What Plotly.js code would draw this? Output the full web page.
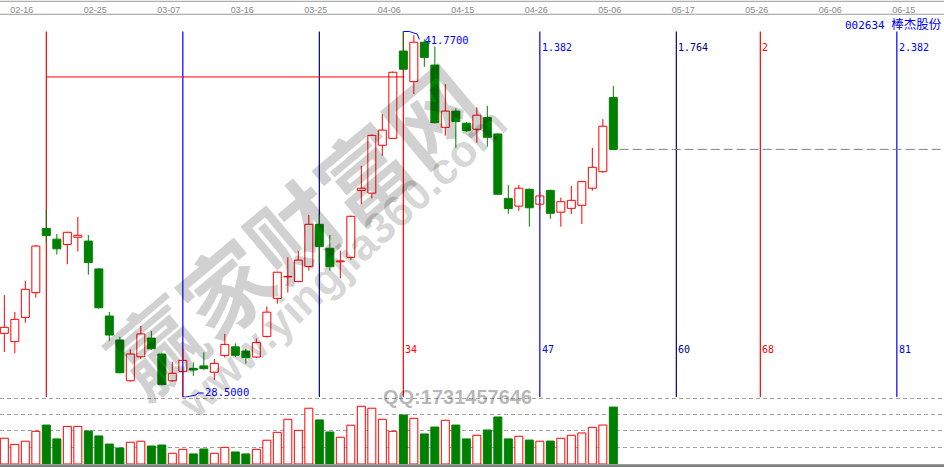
<!DOCTYPE html>
<html><head><meta charset="utf-8">
<script src="https://cdn.plot.ly/plotly-3.0.1.min.js"></script>
<style>html,body{margin:0;padding:0;background:#fff}#chart{width:944px;height:467px}</style>
</head><body><div id="chart"></div>
<script>
// ---------------- DATA ----------------
const stockName = '002634 ';
const stockNameCN = '棒杰股份';
const dateLabels = ['02-16','02-25','03-07','03-16','03-25','04-06','04-15','04-26','05-06','05-17','05-26','06-06','06-15'];
const dateLabelIdx = [1,8,15,22,29,36,43,50,57,64,71,78,85];

const open  = [30.81,30.51,31.39,32.29,34.62,34.23,34.04,34.30,34.16,33.15,31.44,30.57,29.09,29.96,30.64,30.06,29.09,29.43,29.54,29.63,29.40,30.01,30.32,30.17,29.95,30.70,32.08,32.86,32.69,33.24,34.77,33.90,33.41,33.57,36.00,35.90,37.64,37.89,41.06,39.95,41.38,40.55,38.29,38.88,38.44,38.22,38.65,38.05,35.71,35.43,36.04,35.50,36.00,35.21,35.35,35.46,36.08,36.68,39.37];
const high  = [32.20,31.59,32.71,34.02,35.31,34.42,34.50,35.04,34.38,33.18,31.59,30.69,30.23,31.08,30.90,30.11,29.77,30.25,29.76,30.12,29.88,30.79,30.45,30.25,30.63,31.79,33.05,33.57,33.80,35.11,35.11,34.38,33.81,35.09,36.89,38.03,38.77,40.32,41.77,41.64,41.49,41.22,39.86,38.98,38.48,39.02,39.07,38.07,36.20,36.20,36.07,35.95,36.03,35.74,36.16,36.34,37.55,38.59,39.79];
const low   = [30.13,30.09,31.20,32.11,34.10,33.67,33.32,33.78,32.94,31.70,30.54,29.36,29.06,29.88,30.21,28.92,29.06,28.50,29.27,29.48,29.12,29.93,29.96,29.71,29.92,30.66,31.89,32.29,32.66,33.09,33.35,33.09,32.81,33.48,35.50,35.71,37.26,37.87,40.37,39.50,40.49,38.43,37.99,37.55,38.13,37.73,37.59,35.83,35.15,35.26,34.68,35.31,34.97,34.68,35.14,34.78,35.99,36.64,37.47];
const close = [31.03,31.32,32.41,33.98,34.36,33.88,34.48,34.37,33.38,31.74,30.75,29.38,30.06,30.79,30.25,28.95,29.36,29.83,29.48,29.53,29.72,30.41,30.02,29.93,30.48,31.58,33.03,32.88,33.47,34.77,33.96,33.23,33.44,35.06,36.08,38.00,38.19,40.29,40.40,41.38,40.83,38.46,38.88,38.50,38.17,38.73,37.93,35.86,35.34,36.08,35.37,35.80,35.17,35.59,35.64,36.32,36.84,38.33,37.49];
const volume = [1.56,1.19,1.38,1.98,2.36,1.52,2.28,2.28,2.00,1.70,1.21,0.97,1.32,1.38,1.09,1.15,0.65,0.89,0.61,0.91,0.65,1.01,0.73,0.61,0.89,1.44,1.92,2.71,2.04,3.38,2.67,1.94,1.62,2.35,3.50,3.38,2.71,1.98,2.97,2.77,1.82,2.24,2.65,2.36,1.52,1.74,2.06,2.85,1.52,1.68,1.45,1.38,1.39,1.56,1.74,1.88,2.22,2.36,3.45];

// Fibonacci time zones
const fibIdx = [4,17,30,38,51,64,72,85];
const fibTopLabels = ['','','','','1.382','1.764','2','2.382'];
const fibBottomLabels = ['','','','34','47','60','68','81'];
const lowIdx = 17, lowPrice = 28.50;
const highIdx = 38, highPrice = 41.77;
const refLineFrom = 4, refLineTo = 38, refLinePrice = 40.12;

// ---------------- STYLE / LAYOUT CALIBRATION ----------------
const W = 944, H = 467;
const RED = '#ff0000', GREEN = '#008000', BLUE = '#0000ff', NAVY = '#000080';
const fibColors = [RED, BLUE, NAVY, RED, BLUE, NAVY, RED, BLUE];
const step = 10.5, x0px = 4.33;                 // candle spacing on screen
const xr = [-x0px/step, (W - x0px)/step];
const idxAt = px => (px - x0px)/step;
const yLowPx = 397, yHighPx = 31.5;
const ppp = (highPrice - lowPrice)/(yLowPx - yHighPx);
const priceAt = py => lowPrice + (yLowPx - py)*ppp;
const paperY = py => 1 - py/H;
const priceTopPx = 15, priceBotPx = 397.5;
const volBasePx = 464, volUnitPx = 16.5, volTopUnits = 4.25;

const n = open.length;
const idx = open.map((_, i) => i);
const up = idx.filter(i => close[i] >= open[i]);
const dn = idx.filter(i => close[i] < open[i]);

function body(list, fill, line) {
  return {
    type: 'bar', xaxis: 'x', yaxis: 'y2',
    x: list, base: list.map(i => Math.min(open[i], close[i])),
    y: list.map(i => Math.max(Math.abs(close[i] - open[i]), 0.02)),
    width: 0.76, marker: {color: fill, line: {color: line, width: 1}},
    hoverinfo: 'skip'
  };
}
function wicks(list, color) {
  const xs = [], ys = [];
  list.forEach(i => {
    const top = Math.max(open[i], close[i]), bot = Math.min(open[i], close[i]);
    if (high[i] > top) { xs.push(i, i, null); ys.push(top, high[i], null); }
    if (low[i] < bot) { xs.push(i, i, null); ys.push(low[i], bot, null); }
  });
  return {type: 'scatter', mode: 'lines', xaxis: 'x', yaxis: 'y2', x: xs, y: ys,
          line: {color: color, width: 1}, hoverinfo: 'skip'};
}

const traces = [];
// fib time lines (base layer, beneath candles)
[RED, BLUE, NAVY].forEach(c => {
  const xs = [], ys = [];
  fibIdx.forEach((f, k) => { if (fibColors[k] === c) { xs.push(f, f, null); ys.push(lowPrice, highPrice, null); } });
  traces.push({type: 'scatter', mode: 'lines', x: xs, y: ys, xaxis: 'x', yaxis: 'y',
               line: {color: c, width: 1.2}, hoverinfo: 'skip'});
});
// horizontal reference line
traces.push({type: 'scatter', mode: 'lines', x: [refLineFrom, refLineTo], y: [refLinePrice, refLinePrice],
             xaxis: 'x', yaxis: 'y', line: {color: RED, width: 1}, hoverinfo: 'skip'});
// last close dashed line
traces.push({type: 'scatter', mode: 'lines', x: [n - 1 + 0.6, xr[1]], y: [close[n-1], close[n-1]],
             xaxis: 'x', yaxis: 'y', line: {color: '#808080', width: 1, dash: '9px,4px'}, hoverinfo: 'skip'});
// high / low connectors
function connector(ix, pr, offs) {
  const bx = x0px + ix*step, by = yLowPx - (pr - lowPrice)/ppp;
  return {type: 'scatter', mode: 'lines', xaxis: 'x', yaxis: 'y',
          x: offs.map(o => idxAt(bx + o[0])), y: offs.map(o => priceAt(by + o[1])),
          line: {color: BLUE, width: 1}, hoverinfo: 'skip'};
}
traces.push(connector(highIdx, highPrice, [[0,0],[6,0],[10,1.3],[14,2.7],[16,8]]));
traces.push(connector(lowIdx, lowPrice, [[0,0],[3,0],[13,-2],[15,-4],[21,-4]]));
// high label (drawn beneath the candles, as in the reference)
traces.push({type: 'scatter', mode: 'text', xaxis: 'x', yaxis: 'y',
             x: [idxAt(424.4)], y: [priceAt(41.5)], text: [highPrice.toFixed(4)],
             textposition: 'middle right',
             textfont: {family: 'DejaVu Sans Mono', size: 10.5, color: BLUE}, hoverinfo: 'skip'});

// candles (overlay layer)
traces.push(body(up, 'rgba(255,255,255,0)', RED));
traces.push(body(dn, GREEN, GREEN));
traces.push(wicks(up, RED));
traces.push(wicks(dn, GREEN));

// volume
traces.push({type: 'bar', xaxis: 'x', yaxis: 'y3', x: up, y: up.map(i => volume[i]), width: 0.76,
             marker: {color: '#ffffff', line: {color: RED, width: 1}}, hoverinfo: 'skip'});
traces.push({type: 'bar', xaxis: 'x', yaxis: 'y3', x: dn, y: dn.map(i => volume[i]), width: 0.76,
             marker: {color: GREEN, line: {color: GREEN, width: 1}}, hoverinfo: 'skip'});

const priceRange = [priceAt(priceBotPx), priceAt(priceTopPx)];

const annotations = [];
fibIdx.forEach((f, k) => {
  if (fibTopLabels[k]) annotations.push({x: f, xref: 'x', y: paperY(47.7), yref: 'paper', text: fibTopLabels[k],
    showarrow: false, xanchor: 'left', yanchor: 'middle', xshift: 0,
    font: {family: 'DejaVu Sans Mono', size: 10, color: fibColors[k]}});
  if (fibBottomLabels[k]) annotations.push({x: f, xref: 'x', y: paperY(349), yref: 'paper', text: fibBottomLabels[k],
    showarrow: false, xanchor: 'left', yanchor: 'middle', xshift: 0,
    font: {family: 'DejaVu Sans Mono', size: 10, color: fibColors[k]}});
});
annotations.push({x: idxAt(204), xref: 'x', y: paperY(391.5), yref: 'paper', text: lowPrice.toFixed(4),
  showarrow: false, xanchor: 'left', yanchor: 'middle', xshift: -1,
  font: {family: 'DejaVu Sans Mono', size: 10.5, color: BLUE}});
annotations.push({x: 1, xref: 'paper', y: paperY(23), yref: 'paper', xanchor: 'right', yanchor: 'middle',
  text: stockName + '<span style="font-family:Noto Sans CJK SC;font-size:12.5px">' + stockNameCN + '</span>',
  showarrow: false, font: {family: 'DejaVu Sans Mono', size: 11, color: BLUE}});
// watermarks
annotations.push({x: 292/W, xref: 'paper', y: paperY(228), yref: 'paper', text: '赢家财富网', textangle: -40,
  xanchor: 'center', yanchor: 'middle',
  showarrow: false, font: {family: 'Noto Sans CJK SC', size: 90, weight: 700, color: 'rgba(0,0,0,0.18)'}});
annotations.push({x: 342/W, xref: 'paper', y: paperY(262), yref: 'paper', text: 'www.yingjia360.com', textangle: -43,
  xanchor: 'center', yanchor: 'middle',
  showarrow: false, font: {family: 'Liberation Sans', size: 44, weight: 700, color: 'rgba(0,0,0,0.18)'}});
annotations.push({x: 457/W, xref: 'paper', y: paperY(397), yref: 'paper', text: 'QQ:1731457646',
  xanchor: 'center', yanchor: 'middle',
  showarrow: false, font: {family: 'Liberation Sans', size: 20, weight: 700, color: 'rgba(0,0,0,0.3)'}});

const layout = {
  width: W, height: H, margin: {l: 0, r: 0, t: 0, b: 0},
  paper_bgcolor: '#ffffff', plot_bgcolor: 'rgba(0,0,0,0)',
  showlegend: false, barmode: 'overlay', hovermode: false,
  xaxis: {domain: [0, 1], range: xr, anchor: 'free', position: paperY(14.3), side: 'top',
          tickmode: 'array', tickvals: dateLabelIdx, ticktext: dateLabels, ticks: '',
          ticklabelshift: 7, showline: false, showgrid: false, zeroline: false,
          tickfont: {family: 'Liberation Sans', size: 9, color: '#888888'}},
  yaxis: {domain: [paperY(priceBotPx), paperY(priceTopPx)], range: priceRange, visible: false},
  yaxis2: {overlaying: 'y', range: priceRange, visible: false},
  yaxis3: {domain: [paperY(volBasePx), paperY(volBasePx - volTopUnits*volUnitPx)], range: [0, volTopUnits], anchor: 'x',
           showgrid: true, gridcolor: '#a0a0a0', griddash: '4px,3px', gridwidth: 1,
           tickmode: 'linear', tick0: 0, dtick: 1, showticklabels: false, ticks: '',
           zeroline: false, showline: false},
  shapes: [
    {type: 'line', xref: 'paper', yref: 'paper', x0: 0, x1: 1, y0: paperY(1.3), y1: paperY(1.3), line: {color: '#999999', width: 1}},
    {type: 'line', xref: 'paper', yref: 'paper', x0: 0, x1: 1, y0: paperY(14.3), y1: paperY(14.3), line: {color: '#999999', width: 1}},
    {type: 'rect', xref: 'paper', yref: 'paper', x0: 0, x1: 1, y0: 0, y1: paperY(464.3), fillcolor: '#808080', line: {width: 0}}
  ],
  annotations: annotations
};

Plotly.newPlot('chart', traces, layout, {staticPlot: true, displayModeBar: false});
</script></body></html>
